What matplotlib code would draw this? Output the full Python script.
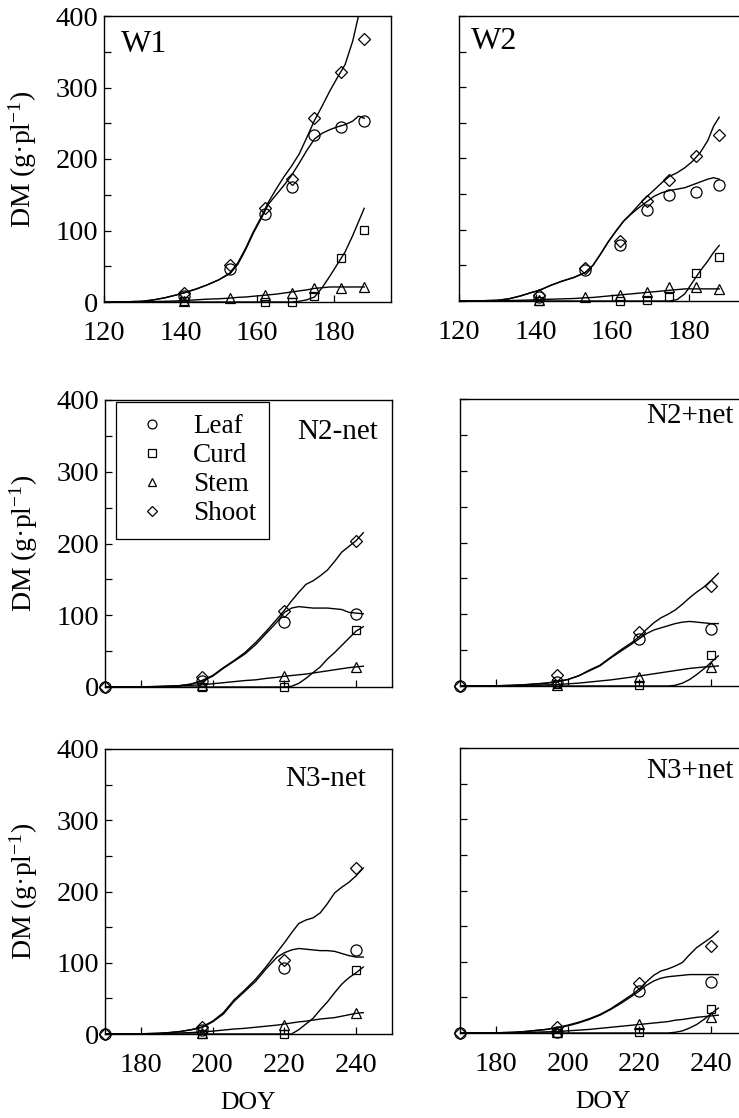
import numpy as np
import matplotlib
matplotlib.use('Agg')
import matplotlib.pyplot as plt
import matplotlib.ticker as mticker

plt.rcParams.update({
    'font.family': 'Liberation Serif',
    'mathtext.fontset': 'custom',
    'mathtext.rm': 'Liberation Serif',
    'mathtext.it': 'Liberation Serif:italic',
    'axes.linewidth': 1.0,
    'xtick.direction': 'in',
    'ytick.direction': 'in',
})

nan = np.nan

# --- top row: W1 / W2 -------------------------------------------------------
TOP_GRID = [120, 125, 130, 133, 136, 139, 141, 144, 147, 150, 153, 155, 157,
            159, 161, 163, 165, 167, 169, 171, 173, 175, 177, 179, 181, 183,
            185, 186.5, 188]
TOP_OBS_DOY = [141, 153, 162, 169, 175, 182, 188]

W1_LEAF_SIM = [0, 0.2, 1, 3, 6, 10, 13, 18, 24, 31, 40, 53, 73, 96, 116, 137,
               150, 163, 177, 194, 212, 228, 236, 241, 245, 248, 253, 260, 257]
W1_CURD_SIM = [0, 0, 0, 0, 0, 0, 0, 0, 0, 0, 0, 0, 0, 0, 0, 0, 0, 0, 0,
               1, 3, 7, 20, 36, 53, 70, 93, 112, 131]
W1_STEM_SIM = [0, 0.1, 0.3, 0.6, 1, 1.5, 2, 3, 4, 4.5, 5.5, 6.5, 7, 8, 9, 10,
               11, 12.5, 14, 15.5, 17, 19, 20, 21, 21, 21, 21, 21, 21]
W1_SHOOT_SIM = [0, 0.2, 1, 3, 6, 10, 13, 18, 24, 31, 41, 55, 75, 98, 118, 140,
                158, 175, 190, 207, 230, 254, 274, 295, 314, 332, 365, 400, 428]
W1_LEAF_OBS = [9, 46, 123, 161, 234, 245, 253]
W1_CURD_OBS = [1, nan, 0, 0, 9, 62, 101]
W1_STEM_OBS = [1, 5, 10, 12, 19, 20, 21]
W1_SHOOT_OBS = [13, 52, 131, 172, 257, 321, 368]

W2_LEAF_SIM = [0, 0.2, 1, 3, 7, 12, 15, 22, 28, 33, 40, 50, 66, 83, 98, 112,
               122, 131, 139, 147, 152, 155, 157, 159, 163, 167, 171, 173, 171]
W2_CURD_SIM = [0, 0, 0, 0, 0, 0, 0, 0, 0, 0, 0, 0, 0, 0, 0, 0, 0, 0, 0, 0, 0, 0,
               2, 10, 26, 42, 56, 68, 78]
W2_STEM_SIM = [0, 0.1, 0.3, 0.6, 1, 1.5, 2, 2.5, 3, 3.5, 4.5, 5, 6, 7, 8, 9,
               10, 11, 12, 13, 14, 15, 16, 17, 17, 17, 17, 17, 17]
W2_SHOOT_SIM = [0, 0.2, 1, 3, 7, 12, 15, 22, 28, 33, 40, 50, 66, 83, 98, 112,
                123, 135, 146, 156, 166, 175, 180, 187, 196, 208, 225, 245, 258]
W2_LEAF_OBS = [5, 44, 79, 128, 149, 153, 163]
W2_CURD_OBS = [0, nan, 0, 1, 5, 39, 62]
W2_STEM_OBS = [1, 5, 8, 12, 20, 20, 17]
W2_SHOOT_OBS = [9, 47, 84, 140, 170, 203, 233]

# --- middle / bottom rows: N2 / N3 with and without net ---------------------
BOT_GRID = [170, 175, 180, 185, 188, 191, 194, 197, 200, 203, 206, 209, 212,
            215, 218, 220, 222, 224, 226, 228, 230, 232, 234, 236, 238, 240, 242]
BOT_OBS_DOY = [170, 197, 220, 240]

N2M_LEAF_SIM = [0, 0, 0.2, 0.6, 1, 2, 4, 8, 15, 26, 36, 46, 59, 75, 91, 104,
                110, 112, 111, 110, 110, 110, 109, 108, 104, 103, 102]
N2M_CURD_SIM = [0, 0, 0, 0, 0, 0, 0, 0, 0, 0, 0, 0, 0, 0, 0, 0,
                1, 5, 12, 20, 28, 39, 48, 58, 68, 78, 84]
N2M_STEM_SIM = [0, 0.1, 0.3, 0.8, 1.2, 1.8, 2.4, 3, 4.5, 6, 7.5, 9, 10, 12,
                13.5, 15, 16, 17, 18, 19.5, 21, 22.5, 24, 25.5, 27, 28, 29]
N2M_SHOOT_SIM = [0, 0, 0.2, 0.6, 1, 2, 4, 9, 16, 27, 37, 48, 62, 78, 95, 107,
                 120, 132, 143, 148, 155, 163, 175, 188, 196, 204, 215]
N2M_LEAF_OBS = [0, 8, 91, 102]
N2M_CURD_OBS = [nan, 0, 0, 80]
N2M_STEM_OBS = [nan, 3, 16, 28]
N2M_SHOOT_OBS = [0, 14, 106, 204]

N2P_LEAF_SIM = [0, 0.1, 0.3, 1, 1.8, 2.8, 4, 6, 9, 14, 21, 28, 39, 49, 59, 66,
                73, 78, 81, 84, 87, 89, 90, 89, 88, 87, 87]
N2P_CURD_SIM = [0, 0, 0, 0, 0, 0, 0, 0, 0, 0, 0, 0, 0, 0, 0, 0, 0, 0, 0, 0,
                1, 4, 9, 16, 24, 33, 42]
N2P_STEM_SIM = [0, 0.1, 0.2, 0.5, 0.8, 1.2, 1.6, 2, 3, 4, 5.5, 7, 8.5, 10.5,
                12.5, 14, 15.5, 17, 18.5, 20, 21.5, 23, 24.5, 25.5, 26.5, 27, 28]
N2P_SHOOT_SIM = [0, 0.1, 0.3, 1, 1.8, 2.8, 4, 6, 9, 14, 22, 29, 40, 51, 61, 69,
                 79, 88, 95, 100, 106, 114, 123, 131, 138, 147, 157]
N2P_LEAF_OBS = [0, 5, 66, 80]
N2P_CURD_OBS = [nan, 3, 2, 43]
N2P_STEM_OBS = [nan, 2, 12, 26]
N2P_SHOOT_OBS = [0, 15, 75, 140]

N3M_LEAF_SIM = [0, 0.1, 0.3, 1, 2, 3.5, 6, 9, 17, 28, 46, 60, 74, 92, 108, 114,
                118, 120, 119, 118, 117, 117, 116, 113, 110, 108, 108]
N3M_CURD_SIM = [0, 0, 0, 0, 0, 0, 0, 0, 0, 0, 0, 0, 0, 0, 0, 0, 0,
                6, 14, 22, 34, 45, 58, 70, 79, 86, 94]
N3M_STEM_SIM = [0, 0.1, 0.3, 0.5, 1, 1.5, 2, 3, 4, 5.5, 7, 8, 9.5, 11, 12.5,
                14, 15.5, 17, 18, 19.5, 21, 22, 23, 25, 27, 29, 30]
N3M_SHOOT_SIM = [0, 0.1, 0.3, 1, 2, 3.5, 6, 10, 18, 30, 48, 62, 77, 95, 115,
                 128, 142, 155, 160, 163, 170, 183, 198, 206, 213, 222, 233]
N3M_LEAF_OBS = [0, 5, 92, 118]
N3M_CURD_OBS = [nan, 0, 0, 90]
N3M_STEM_OBS = [nan, 2, 13, 29]
N3M_SHOOT_OBS = [0, 10, 104, 233]

N3P_LEAF_SIM = [0, 0.1, 0.3, 1, 2, 3.5, 5, 7, 10, 14, 19, 25, 33, 42, 52, 59,
                67, 73, 77, 79, 80, 81, 82, 82, 82, 82, 82]
N3P_CURD_SIM = [0, 0, 0, 0, 0, 0, 0, 0, 0, 0, 0, 0, 0, 0, 0, 0, 0, 0, 0, 0,
                1, 3, 7, 12, 19, 27, 35]
N3P_STEM_SIM = [0, 0.1, 0.2, 0.5, 0.8, 1.2, 1.6, 2, 3, 4, 5, 6.5, 8, 9.5, 11,
                12, 13, 14, 15, 16, 18, 19, 20.5, 22, 23, 24, 25]
N3P_SHOOT_SIM = [0, 0.1, 0.3, 1, 2, 3.5, 5, 7.5, 11, 15, 20, 26, 34, 44, 54,
                 62, 72, 81, 87, 90, 94, 99, 110, 120, 127, 134, 143]
N3P_LEAF_OBS = [0, 2, 59, 72]
N3P_CURD_OBS = [nan, 0, 2, 34]
N3P_STEM_OBS = [nan, 1, 12, 23]
N3P_SHOOT_OBS = [0, 9, 70, 122]

ORGANS = ['Leaf', 'Curd', 'Stem', 'Shoot']
MARKERS = {'Leaf': ('o', 8.0), 'Curd': ('s', 6.4), 'Stem': ('^', 7.0),
           'Shoot': ('D', 6.3)}

YLABEL = 'DM (g·pl$^{-1}$)'
TICK_SIZE = 20.5


def draw_panel(ax, grid, sims, obs_doy, obs, xlim, xticks, name, name_pos,
               name_size, show_x, show_y, legend=False):
    for organ, sim in zip(ORGANS, sims):
        ax.plot(grid, sim, color='black', lw=1.0, zorder=2)
    handles = []
    for organ, o in zip(ORGANS, obs):
        m, ms = MARKERS[organ]
        h, = ax.plot(obs_doy, o, ls='none', marker=m, ms=ms, mfc='none',
                     mec='black', mew=0.9, clip_on=False, zorder=3,
                     label=organ)
        handles.append(h)

    ax.set_xlim(*xlim)
    ax.set_ylim(0, 400)
    ax.xaxis.set_major_locator(mticker.FixedLocator(xticks))
    ax.yaxis.set_major_locator(mticker.MultipleLocator(100))
    ax.yaxis.set_minor_locator(mticker.MultipleLocator(50))
    ax.tick_params(axis='both', which='both', length=5, width=0.9,
                   labelsize=TICK_SIZE)
    ax.tick_params(axis='x', pad=14)
    ax.tick_params(axis='y', pad=4)
    if not show_x:
        ax.tick_params(axis='x', labelbottom=False)
    if not show_y:
        ax.tick_params(axis='y', labelleft=False)
    else:
        ax.set_ylabel(YLABEL, fontsize=20)
        ax.yaxis.set_label_coords(-0.226, 0.5)

    x, y, ha = name_pos
    ax.text(x, y, name, transform=ax.transAxes, ha=ha, va='top',
            fontsize=name_size)

    if legend:
        ax.legend(handles=handles, loc='upper left',
                  bbox_to_anchor=(0.038, 0.993), borderaxespad=0,
                  fontsize=19.5, frameon=True, fancybox=False,
                  edgecolor='black', framealpha=1, markerscale=0.8,
                  handlelength=1.8, handletextpad=0.6, labelspacing=0.15,
                  borderpad=0.45)
        ax.get_legend().get_frame().set_linewidth(0.9)


fig = plt.figure(figsize=(7.39, 11.18), dpi=100)

W_FIG = 739.0
H_FIG = 1118.0


def add_axes(left_px, top_px, bottom_px, width_px=287.0):
    return fig.add_axes([left_px / W_FIG, 1 - bottom_px / H_FIG,
                         width_px / W_FIG, (bottom_px - top_px) / H_FIG])


ax_w1 = add_axes(104, 16, 302)
ax_w2 = add_axes(459, 16, 301)
ax_n2m = add_axes(105, 400, 687)
ax_n2p = add_axes(460, 399, 686)
ax_n3m = add_axes(105, 749, 1034)
ax_n3p = add_axes(460, 748, 1033)

top_ticks = [120, 140, 160, 180]
bot_ticks = [180, 200, 220, 240]

draw_panel(ax_w1, TOP_GRID,
           [W1_LEAF_SIM, W1_CURD_SIM, W1_STEM_SIM, W1_SHOOT_SIM],
           TOP_OBS_DOY, [W1_LEAF_OBS, W1_CURD_OBS, W1_STEM_OBS, W1_SHOOT_OBS],
           (120, 195), top_ticks, 'W1', (0.058, 0.95, 'left'), 23,
           show_x=True, show_y=True)
draw_panel(ax_w2, TOP_GRID,
           [W2_LEAF_SIM, W2_CURD_SIM, W2_STEM_SIM, W2_SHOOT_SIM],
           TOP_OBS_DOY, [W2_LEAF_OBS, W2_CURD_OBS, W2_STEM_OBS, W2_SHOOT_OBS],
           (120, 195), top_ticks, 'W2', (0.043, 0.962, 'left'), 23,
           show_x=True, show_y=False)
draw_panel(ax_n2m, BOT_GRID,
           [N2M_LEAF_SIM, N2M_CURD_SIM, N2M_STEM_SIM, N2M_SHOOT_SIM],
           BOT_OBS_DOY,
           [N2M_LEAF_OBS, N2M_CURD_OBS, N2M_STEM_OBS, N2M_SHOOT_OBS],
           (170, 250), bot_ticks, 'N2-net', (0.952, 0.935, 'right'), 21,
           show_x=False, show_y=True, legend=True)
draw_panel(ax_n2p, BOT_GRID,
           [N2P_LEAF_SIM, N2P_CURD_SIM, N2P_STEM_SIM, N2P_SHOOT_SIM],
           BOT_OBS_DOY,
           [N2P_LEAF_OBS, N2P_CURD_OBS, N2P_STEM_OBS, N2P_SHOOT_OBS],
           (170, 250), bot_ticks, 'N2+net', (0.952, 0.985, 'right'), 21,
           show_x=False, show_y=False)
draw_panel(ax_n3m, BOT_GRID,
           [N3M_LEAF_SIM, N3M_CURD_SIM, N3M_STEM_SIM, N3M_SHOOT_SIM],
           BOT_OBS_DOY,
           [N3M_LEAF_OBS, N3M_CURD_OBS, N3M_STEM_OBS, N3M_SHOOT_OBS],
           (170, 250), bot_ticks, 'N3-net', (0.909, 0.94, 'right'), 21,
           show_x=True, show_y=True)
draw_panel(ax_n3p, BOT_GRID,
           [N3P_LEAF_SIM, N3P_CURD_SIM, N3P_STEM_SIM, N3P_SHOOT_SIM],
           BOT_OBS_DOY,
           [N3P_LEAF_OBS, N3P_CURD_OBS, N3P_STEM_OBS, N3P_SHOOT_OBS],
           (170, 250), bot_ticks, 'N3+net', (0.952, 0.965, 'right'), 21,
           show_x=True, show_y=False)

for ax in (ax_n3m, ax_n3p):
    ax.set_xlabel('DOY', fontsize=18.5)
    ax.xaxis.set_label_coords(0.5, -0.205)

fig.savefig('out.png', dpi=100)
